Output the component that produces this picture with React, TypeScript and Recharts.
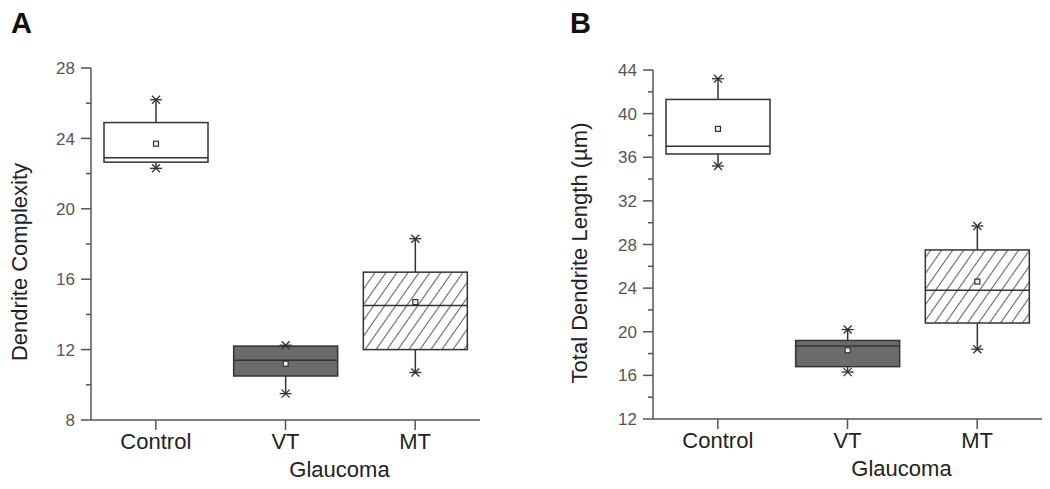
import React from 'react'
import { ComposedChart, Bar, XAxis, YAxis } from 'recharts'

const groups = ['Control', 'VT', 'MT']

// panel A – dendrite complexity
const complexityMin = [22.3, 9.5, 10.7]
const complexityQ1 = [22.65, 10.5, 12.0]
const complexityMedian = [22.9, 11.4, 14.5]
const complexityQ3 = [24.9, 12.2, 16.4]
const complexityMax = [26.2, 12.25, 18.3]
const complexityMean = [23.7, 11.2, 14.7]
const complexityTicks = [8, 10, 12, 14, 16, 18, 20, 22, 24, 26, 28]

// panel B – total dendrite length
const lengthMin = [35.2, 16.3, 18.4]
const lengthQ1 = [36.3, 16.8, 20.8]
const lengthMedian = [37.0, 18.7, 23.8]
const lengthQ3 = [41.3, 19.2, 27.5]
const lengthMax = [43.2, 20.2, 29.7]
const lengthMean = [38.6, 18.3, 24.6]
const lengthTicks = [12, 14, 16, 18, 20, 22, 24, 26, 28, 30, 32, 34, 36, 38, 40, 42, 44]

const FONT = '"Liberation Sans", Arial, Helvetica, sans-serif'
const AXIS = '#555'
const INK = '#333'

const makeRows = (min: number[], q1: number[], med: number[], q3: number[], max: number[], mean: number[]) =>
  groups.map((name, i) => ({
    name,
    range: [min[i], max[i]],
    min: min[i],
    q1: q1[i],
    median: med[i],
    q3: q3[i],
    max: max[i],
    mean: mean[i],
  }))

const complexityRows = makeRows(complexityMin, complexityQ1, complexityMedian, complexityQ3, complexityMax, complexityMean)
const lengthRows = makeRows(lengthMin, lengthQ1, lengthMedian, lengthQ3, lengthMax, lengthMean)

function BoxShape(props: any) {
  const { x, width, y, height, payload, hatchId } = props
  const top = Math.min(y, y + height)
  const h = Math.abs(height)
  // whisker range is the bar itself, so positions inside come from the bar's own scale
  const toY = (v: number) => top + ((payload.max - v) / (payload.max - payload.min)) * h
  const cx = x + width / 2
  const yq1 = toY(payload.q1)
  const yq3 = toY(payload.q3)
  const ymed = toY(payload.median)
  const ymean = toY(payload.mean)
  const ymin = toY(payload.min)
  const ymax = toY(payload.max)
  const fill = payload.name === 'VT' ? '#6b6b6b' : payload.name === 'MT' ? `url(#${hatchId})` : '#fff'
  const star = (sy: number) => (
    <g stroke={INK} strokeWidth={1.3}>
      <line x1={cx - 6} x2={cx + 6} y1={sy} y2={sy} />
      <line x1={cx - 4} y1={sy - 4} x2={cx + 4} y2={sy + 4} />
      <line x1={cx - 4} y1={sy + 4} x2={cx + 4} y2={sy - 4} />
    </g>
  )
  return (
    <g>
      <defs>
        <pattern id={hatchId} patternUnits="userSpaceOnUse" width={9} height={9} patternTransform="rotate(35)">
          <rect width={9} height={9} fill="#fff" />
          <line x1={4.5} y1={0} x2={4.5} y2={9} stroke="#666" strokeWidth={1.1} />
        </pattern>
      </defs>
      <line x1={cx} x2={cx} y1={yq3} y2={ymax} stroke={INK} strokeWidth={1.5} />
      <line x1={cx} x2={cx} y1={yq1} y2={ymin} stroke={INK} strokeWidth={1.5} />
      <rect x={x} y={yq3} width={width} height={yq1 - yq3} fill={fill} stroke={INK} strokeWidth={1.5} />
      <line x1={x} x2={x + width} y1={ymed} y2={ymed} stroke={INK} strokeWidth={1.5} />
      <rect x={cx - 2.5} y={ymean - 2.5} width={5} height={5} fill="#eee" stroke={INK} strokeWidth={1.2} />
      {star(ymax)}
      {star(ymin)}
    </g>
  )
}

function YTick(props: any) {
  const { x, y, payload } = props
  const v = payload.value
  const major = v % 4 === 0
  return (
    <g>
      <line x1={x - (major ? 10 : 5)} x2={x} y1={y} y2={y} stroke={AXIS} strokeWidth={1.5} />
      {major && (
        <text x={x - 16} y={y} dy="0.36em" textAnchor="end" fontSize={17} fill="#555" fontFamily={FONT}>
          {v}
        </text>
      )}
    </g>
  )
}

function Panel({ rows, ticks, domain, yTitle, yTitleX, yTitleY, hatchId, width, yAxisWidth, top, xAxisHeight, right }: any) {
  return (
    <ComposedChart width={width} height={489} data={rows} margin={{ top, right, bottom: 0, left: 0 }}>
      <XAxis
        dataKey="name"
        height={xAxisHeight}
        tick={{ fontSize: 22, fill: '#222', fontFamily: FONT }}
        tickSize={10}
        tickMargin={3}
        tickLine={{ stroke: AXIS, strokeWidth: 1.5 }}
        axisLine={{ stroke: AXIS, strokeWidth: 1.5 }}
        label={{
          content: (p: any) => {
            const vb = p.viewBox || { x: 0, y: 0, width: 0 }
            return (
              <text x={vb.x + vb.width / 2 + 54} y={vb.y + 57} textAnchor="middle" fontSize={22} fill="#222" fontFamily={FONT}>
                Glaucoma
              </text>
            )
          },
        }}
      />
      <YAxis
        type="number"
        domain={domain}
        ticks={ticks}
        interval={0}
        width={yAxisWidth}
        tickSize={0}
        tickMargin={0}
        tickLine={false}
        tick={<YTick />}
        axisLine={{ stroke: AXIS, strokeWidth: 1.5 }}
        label={{
          content: () => (
            <text
              x={yTitleX}
              y={yTitleY}
              transform={`rotate(-90 ${yTitleX} ${yTitleY})`}
              textAnchor="middle"
              fontSize={22}
              fill="#222"
              fontFamily={FONT}
            >
              {yTitle}
            </text>
          ),
        }}
      />
      <Bar dataKey="range" barSize={104} isAnimationActive={false} shape={(p: any) => <BoxShape {...p} hatchId={hatchId} />} />
    </ComposedChart>
  )
}

export default function App() {
  return (
    <div style={{ position: 'absolute', left: 0, top: 0, width: 1050, height: 489, background: '#fff', fontFamily: FONT }}>
      <svg width={60} height={45} style={{ position: 'absolute', left: 0, top: 0 }}>
        <text x={11} y={33} fontSize={29} fontWeight="bold" fill="#111" fontFamily={FONT}>A</text>
      </svg>
      <svg width={60} height={45} style={{ position: 'absolute', left: 568, top: 0 }}>
        <text x={2} y={33} fontSize={29} fontWeight="bold" fill="#111" fontFamily={FONT}>B</text>
      </svg>
      <div style={{ position: 'absolute', left: 0, top: 0 }}>
        <Panel
          rows={complexityRows}
          ticks={complexityTicks}
          domain={[8, 28]}
          yTitle="Dendrite Complexity"
          yTitleX={27}
          yTitleY={262}
          hatchId="hatchA"
          width={530}
          yAxisWidth={91}
          top={68}
          right={50}
          xAxisHeight={69}
        />
      </div>
      <div style={{ position: 'absolute', left: 540, top: 0 }}>
        <Panel
          rows={lengthRows}
          ticks={lengthTicks}
          domain={[12, 44]}
          yTitle="Total Dendrite Length (µm)"
          yTitleX={47}
          yTitleY={253}
          hatchId="hatchB"
          width={510}
          yAxisWidth={113}
          top={70}
          right={8}
          xAxisHeight={70}
        />
      </div>
    </div>
  )
}
